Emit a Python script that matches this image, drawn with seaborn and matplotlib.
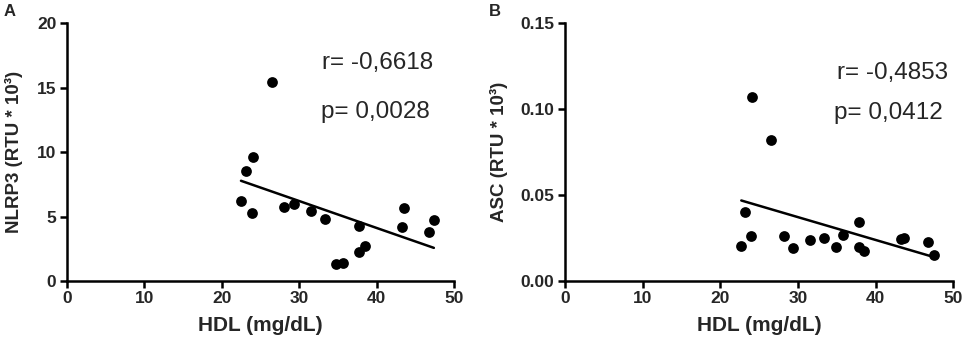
import numpy as np
import pandas as pd
import seaborn as sns
import matplotlib.pyplot as plt

# values
hdl = [22.5, 23.1, 24.1, 23.9, 26.5, 28.1, 29.3, 31.5, 33.4, 34.8,
       35.7, 37.7, 37.7, 38.5, 43.3, 43.6, 46.8, 47.4]
nlrp3 = [6.21, 8.56, 9.6, 5.25, 15.47, 5.77, 5.98, 5.46, 4.81, 1.32,
         1.42, 4.29, 2.23, 2.74, 4.22, 5.69, 3.83, 4.73]

hdl_b = [22.7, 23.2, 23.9, 24.1, 26.5, 28.2, 29.4, 31.6, 33.4, 34.85,
         35.75, 37.8, 37.8, 38.5, 43.3, 43.7, 46.8, 47.5]
asc = [0.0206, 0.0404, 0.0264, 0.1073, 0.0821, 0.0264, 0.0192, 0.0239, 0.0248, 0.0200,
       0.0268, 0.0345, 0.0200, 0.0177, 0.0245, 0.0248, 0.0229, 0.0151]

df_a = pd.DataFrame({'HDL': hdl, 'NLRP3': nlrp3})
df_b = pd.DataFrame({'HDL': hdl_b, 'ASC': asc})

sns.set_style("ticks")
plt.rcParams['font.family'] = ['Liberation Sans', 'DejaVu Sans']

fig = plt.figure(figsize=(9.65, 3.43), dpi=100)
W, H = 965, 343
ax1 = fig.add_axes([66.7 / W, 1 - 281 / H, (454 - 66.7) / W, (281 - 23.3) / H])
ax2 = fig.add_axes([565 / W, 1 - 281 / H, (953.3 - 565) / W, (281 - 23.3) / H])

for ax, d, col, ylab, yticks, ytl, ylx in [
        (ax1, df_a, 'NLRP3', 'NLRP3 (RTU * 10³)', [0, 5, 10, 15, 20], ['0', '5', '10', '15', '20'], -0.112),
        (ax2, df_b, 'ASC', 'ASC (RTU * 10³)', [0, 0.05, 0.10, 0.15], ['0.00', '0.05', '0.10', '0.15'], -0.148)]:
    sns.regplot(data=d, x='HDL', y=col, ax=ax, ci=None, color='black',
                scatter_kws={'s': 60, 'alpha': 1, 'linewidths': 0, 'zorder': 3},
                line_kws={'lw': 1.8})
    ax.set_xlim(0, 50)
    ax.set_ylim(yticks[0], yticks[-1])
    ax.set_xticks([0, 10, 20, 30, 40, 50])
    ax.set_yticks(yticks)
    ax.set_yticklabels(ytl)
    ax.set_xlabel('HDL (mg/dL)', fontsize=15, fontweight='bold')
    ax.set_ylabel(ylab, fontsize=13.5, fontweight='bold')
    ax.yaxis.set_label_coords(ylx, 0.5)
    ax.xaxis.set_label_coords(0.5, -0.135)
    for lab in ax.get_xticklabels() + ax.get_yticklabels():
        lab.set_fontweight('bold')
        lab.set_fontsize(12.5)
    ax.tick_params(width=1.8, length=5, pad=2.5, color='black')
    for s in ['left', 'bottom']:
        ax.spines[s].set_linewidth(1.8)
        ax.spines[s].set_color('black')
    sns.despine(ax=ax)
    ax.margins(0)

ax1.text(32.9, 16.9, 'r= -0,6618', fontsize=17.5, va='center', ha='left')
ax1.text(32.8, 13.1, 'p= 0,0028', fontsize=17.5, va='center', ha='left')
ax2.text(35.0, 0.1212, 'r= -0,4853', fontsize=17.5, va='center', ha='left')
ax2.text(34.7, 0.0978, 'p= 0,0412', fontsize=17.5, va='center', ha='left')

fig.text(4 / W, 1 - 12 / H, 'A', fontsize=12, fontweight='bold', va='center', ha='left')
fig.text(489 / W, 1 - 12 / H, 'B', fontsize=12, fontweight='bold', va='center', ha='left')

for ax in (ax1, ax2):
    for c in ax.collections:
        c.set_clip_on(False)

fig.savefig('out.png', dpi=100)
